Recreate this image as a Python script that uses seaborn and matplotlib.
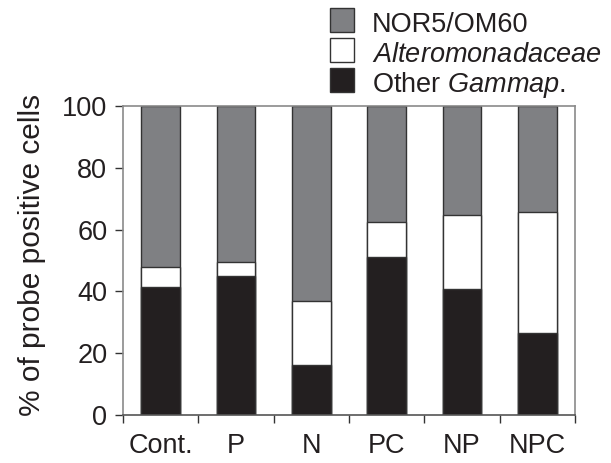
import matplotlib
matplotlib.use("Agg")
import matplotlib.pyplot as plt
from matplotlib.patches import Rectangle
import numpy as np
import pandas as pd
import seaborn as sns

# Treatments and community composition (% of probe positive cells)
treatments = ["Cont.", "P", "N", "PC", "NP", "NPC"]
other_gammap = [41.3, 45.1, 16.2, 51.1, 40.8, 26.5]
alteromonadaceae = [6.5, 4.5, 20.8, 11.3, 23.9, 39.2]
nor5_om60 = [52.2, 50.4, 63.0, 37.6, 35.3, 34.3]
group_labels = ["NOR5/OM60", r"$\mathit{Alteromonadaceae}$", r"Other $\mathit{Gammap.}$"]

sns.set_theme(style="white")
plt.rcParams["font.family"] = ["Liberation Sans", "DejaVu Sans"]
plt.rcParams["mathtext.fontset"] = "custom"
plt.rcParams["mathtext.rm"] = "Liberation Sans"
plt.rcParams["mathtext.it"] = "Liberation Sans:italic"

df = pd.DataFrame({
    "treatment": treatments,
    "other": other_gammap,
    "altero": alteromonadaceae,
    "nor5": nor5_om60,
})
df["lvl1"] = df["other"]
df["lvl2"] = df["other"] + df["altero"]
df["lvl3"] = df["lvl2"] + df["nor5"]

c_grey = "#7f8083"
c_white = "#ffffff"
c_black = "#231f20"
edge = "#333333"
text_c = "#231f20"

W, H = 611, 463
fig = plt.figure(figsize=(W / 100, H / 100), dpi=100)
ax = fig.add_axes([123 / W, 48 / H, 452 / W, 309 / H])

bar_kw = dict(x="treatment", order=treatments, width=0.51, edgecolor=edge,
              linewidth=1.0, ax=ax, zorder=2, saturation=1)
sns.barplot(data=df, y="lvl3", color=c_grey, **bar_kw)
sns.barplot(data=df, y="lvl2", color=c_white, **bar_kw)
sns.barplot(data=df, y="lvl1", color=c_black, **bar_kw)

ax.set_xlim(-0.5, len(treatments) - 0.5)
ax.set_ylim(0, 100)
ax.set_yticks([0, 20, 40, 60, 80, 100])
ax.set_xticks(range(len(treatments)))
ax.set_xticklabels(treatments)
ax.set_xticks(np.arange(-0.5, len(treatments)), minor=True)
ax.tick_params(axis="x", which="major", length=0, pad=13, labelsize=19.5,
               colors=text_c)
ax.tick_params(axis="x", which="minor", length=5.8, width=1.0, color="#333333",
               bottom=True, direction="out")
ax.tick_params(axis="y", length=5.8, width=1.0, color="#333333", left=True,
               direction="out", labelsize=19.5, labelcolor=text_c, pad=5.5)
ax.set_xlabel("")
ax.set_ylabel("% of probe positive cells", fontsize=21.5, color=text_c)
ax.yaxis.set_label_coords((46 - 123) / 452, (415 - 254.5) / 309)

for side in ["top", "right", "left", "bottom"]:
    ax.spines[side].set_visible(True)
    ax.spines[side].set_color("#8a8a8a")
    ax.spines[side].set_linewidth(1.2)
ax.spines["bottom"].set_color("#555555")

# Legend: swatches and labels placed in figure pixels
swatch_colors = [c_grey, c_white, c_black]
swatch_tops = [8, 38, 68]
baselines = [32, 62, 92]
for col, top, base, lab in zip(swatch_colors, swatch_tops, baselines, group_labels):
    fig.patches.append(Rectangle((330 / W, 1 - (top + 24) / H), 24 / W, 24 / H,
                                 transform=fig.transFigure, facecolor=col,
                                 edgecolor=edge, linewidth=1.0))
    fig.text(372 / W, 1 - base / H, lab, fontsize=19.5, color=text_c,
             ha="left", va="baseline")

fig.savefig("out.png", dpi=100)
